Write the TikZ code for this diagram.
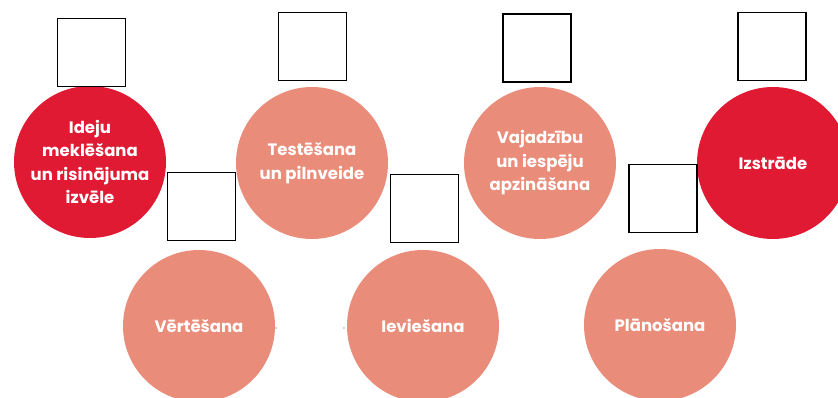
\documentclass[tikz,border=0pt]{standalone}
\usepackage{fontspec}
\setmainfont{Poppins}
\definecolor{cred}{HTML}{E11A34}
\definecolor{csalmon}{HTML}{EA8C7A}
\tikzset{
  x=1pt,y=-1pt,
  stage/.style={circle,minimum size=152pt,inner sep=0pt,text=white,align=center,
    font=\fontsize{16.5}{23.5}\selectfont\bfseries},
  redstage/.style={stage,fill=cred},
  salstage/.style={stage,fill=csalmon},
  blank/.style={draw=black,line width=1.4pt,fill=white,minimum size=68pt,inner sep=0pt},
  speck/.style={circle,fill=gray!70,inner sep=0pt,minimum size=1.8pt}
}
\begin{document}
\begin{tikzpicture}
\useasboundingbox (0,0) rectangle (838,398);
\clip (0,0) rectangle (838,398);
\node[redstage] (ideju) at (90,162) {Ideju\\meklēšana\\un risinājuma\\izvēle};
\node[salstage] (test) at (312,163) {Testēšana\\un pilnveide};
\node[salstage] (vaj) at (540,163) {Vajadzību\\un iespēju\\apzināšana};
\node[redstage] (izs) at (773,163) {Izstrāde};
\node[salstage] (vert) at (199,326) {Vērtēšana};
\node[salstage] (iev) at (423,326) {Ieviešana};
\node[salstage] (plan) at (660,325) {Plānošana};
\node[blank] (b1) at (91.5,52.5) {};
\node[blank] (b2) at (201.5,206.5) {};
\node[blank] (b3) at (312.5,46.5) {};
\node[blank] (b4) at (424.5,208.5) {};
\node[blank] (b5) at (537,48) {};
\node[blank] (b6) at (663,198.5) {};
\node[blank] (b7) at (772,46.5) {};
\node[speck] (s1) at (276,328) {};
\node[speck] (s2) at (344,328) {};
\end{tikzpicture}
\end{document}
